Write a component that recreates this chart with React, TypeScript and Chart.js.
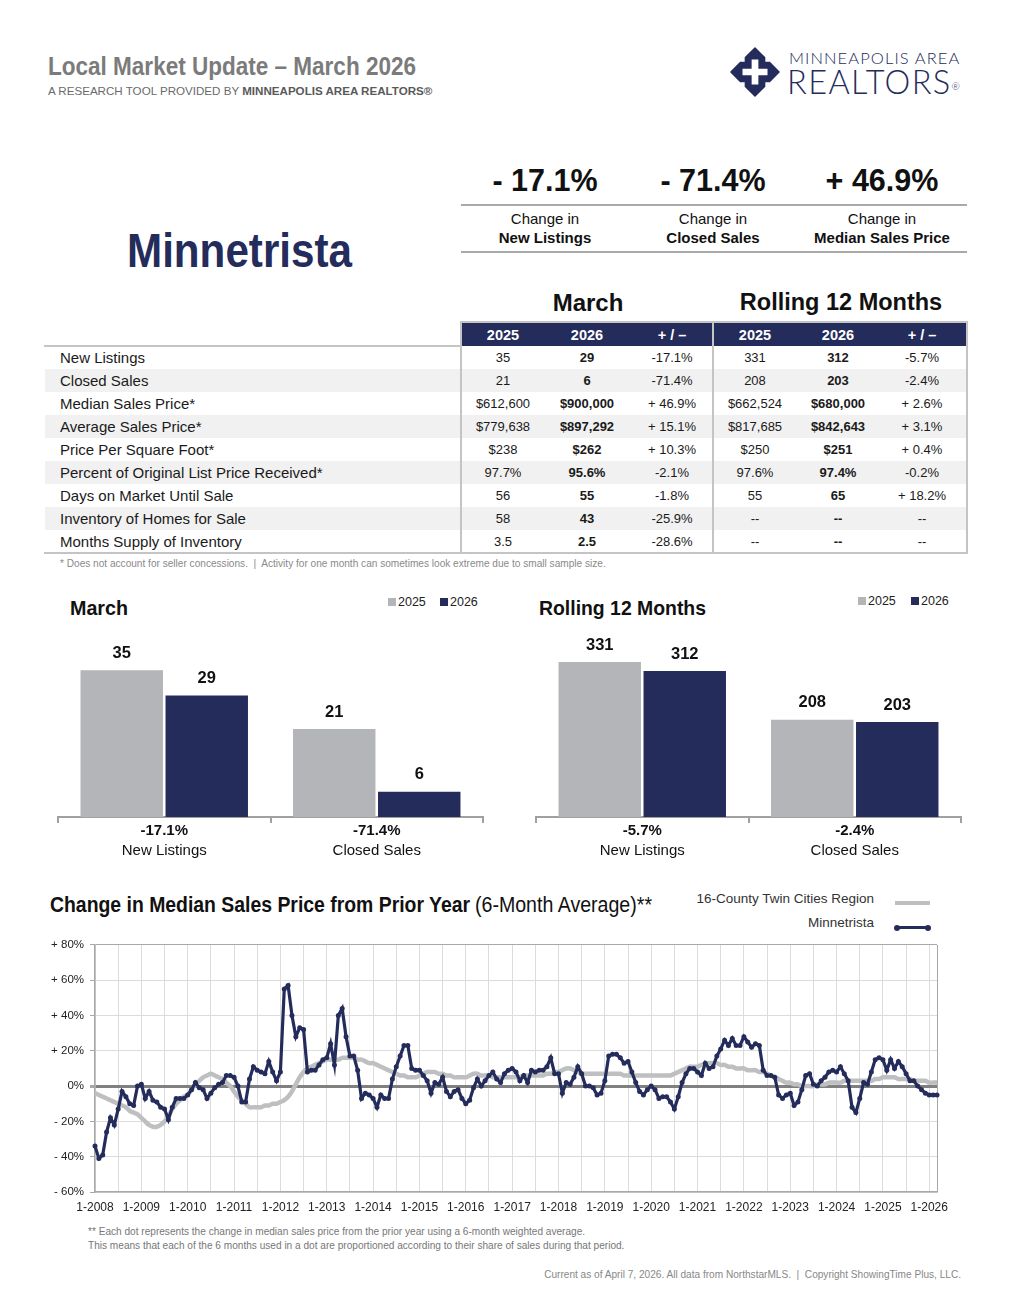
import React, { useEffect, useLayoutEffect, useRef } from "react";
import { Chart, registerables } from "chart.js";
Chart.register(...registerables);

const FONT = "'Liberation Sans', Arial, Helvetica, sans-serif";
const NAVY = "#242c5c";
const BAR_GRAY = "#b3b5b8";
const LINE_GRAY = "#bdbfc1";

// ---- KPI ----
const kpiValues = ["- 17.1%", "- 71.4%", "+ 46.9%"];
const kpiLabels = ["New Listings", "Closed Sales", "Median Sales Price"];

// ---- Table ----
const tableRows = [
  "New Listings",
  "Closed Sales",
  "Median Sales Price*",
  "Average Sales Price*",
  "Price Per Square Foot*",
  "Percent of Original List Price Received*",
  "Days on Market Until Sale",
  "Inventory of Homes for Sale",
  "Months Supply of Inventory",
];
const march2025 = ["35", "21", "$612,600", "$779,638", "$238", "97.7%", "56", "58", "3.5"];
const march2026 = ["29", "6", "$900,000", "$897,292", "$262", "95.6%", "55", "43", "2.5"];
const marchChange = ["-17.1%", "-71.4%", "+ 46.9%", "+ 15.1%", "+ 10.3%", "-2.1%", "-1.8%", "-25.9%", "-28.6%"];
const rolling2025 = ["331", "208", "$662,524", "$817,685", "$250", "97.6%", "55", "--", "--"];
const rolling2026 = ["312", "203", "$680,000", "$842,643", "$251", "97.4%", "65", "--", "--"];
const rollingChange = ["-5.7%", "-2.4%", "+ 2.6%", "+ 3.1%", "+ 0.4%", "-0.2%", "+ 18.2%", "--", "--"];

// ---- Bar charts ----
const barCategories = ["New Listings", "Closed Sales"];
const marchBars2025 = [35, 21];
const marchBars2026 = [29, 6];
const marchBarChanges = ["-17.1%", "-71.4%"];
const rollingBars2025 = [331, 208];
const rollingBars2026 = [312, 203];
const rollingBarChanges = ["-5.7%", "-2.4%"];

// ---- Line chart (Jan 2008 .. Mar 2026, monthly, % change) ----
const startYear = 2008;
const minnetristaValues = [
  -34, -41, -39, -26, -18, -22, -13, -3, -6, -10, -11, 0,
  1, -7, -3, -8, -9, -12, -13, -19, -12, -7, -7, -7,
  -5, -2, 2, -1, -2, -7, -4, -1, 1, 2, 6, 6,
  5, 0, -9, -9, 4, 11, 9, 8, 7, 14, 8, 3,
  8, 55, 57, 40, 28, 33, 32, 8, 9, 9, 12, 15,
  16, 24, 12, 40, 44, 28, 17, 17, 9, -7, -4, -5,
  -7, -12, -5, -7, -7, 4, 11, 17, 23, 23, 10, 9,
  9, 6, 3, -4, 2, 1, 5, -3, -6, -3, -2, -7,
  -10, -8, -1, 4, 0, 3, 6, 8, 4, 2, 7, 9,
  10, 8, 3, 6, 2, 9, 8, 9, 9, 11, 16, 7,
  7, -4, 2, 1, 5, 11, 7, 0, 0, -1, -5, -4,
  3, 17, 18, 18, 16, 13, 14, 8, 2, -3, -5, -2,
  0, -2, -7, -6, -6, -9, -13, -6, 2, 7, 10, 10,
  8, 6, 13, 10, 11, 17, 21, 26, 23, 27, 23, 23,
  28, 25, 22, 24, 23, 9, 6, 6, 5, -5, -7, -5,
  -4, -11, -9, -2, 6, 7, 1, 0, 3, 5, 8, 9,
  8, 11, 7, 3, -12, -15, -7, 2, 1, 8, 15, 16,
  15, 9, 15, 10, 14, 11, 7, 3, 3, 0, -2, -4,
  -5, -5, -5,
];
const regionValues = [
  -4, -5, -6, -7, -8, -9, -10, -11, -12, -14, -15, -16,
  -18, -20, -22, -23, -23, -22, -20, -17, -13, -10, -8, -6,
  -5, -2, 1, 3, 5, 6, 7, 6, 5, 4, 2, 0,
  -3, -6, -8, -10, -12, -12, -12, -12, -11, -11, -10, -10,
  -9, -8, -6, -3, 1, 5, 8, 10, 11, 12, 13, 14,
  15, 15, 15, 15, 16, 16, 16, 16, 15, 15, 14, 13,
  13, 12, 11, 10, 9, 8, 7, 6, 6, 5, 5, 5,
  6, 7, 8, 8, 8, 7, 7, 6, 6, 5, 5, 5,
  5, 6, 7, 7, 6, 6, 6, 5, 5, 5, 5, 5,
  5, 5, 5, 6, 6, 6, 6, 6, 6, 7, 7, 8,
  8, 9, 10, 10, 9, 8, 7, 7, 7, 7, 7, 7,
  7, 7, 7, 7, 7, 6, 6, 6, 6, 6, 6, 6,
  6, 6, 6, 6, 6, 6, 7, 8, 9, 10, 11, 11,
  11, 12, 12, 13, 13, 13, 12, 12, 11, 11, 10, 10,
  10, 9, 9, 9, 8, 8, 7, 6, 5, 4, 3, 2,
  2, 1, 1, 0, 0, 0, 0, 1, 1, 1, 2, 2,
  2, 2, 3, 3, 3, 3, 3, 3, 3, 3, 4, 4,
  5, 5, 5, 5, 4, 4, 4, 4, 3, 3, 3, 3,
  2, 2, 2,
];
const monthLabels = minnetristaValues.map((_, i) => `${(i % 12) + 1}-${startYear + Math.floor(i / 12)}`);
const yTicks = [80, 60, 40, 20, 0, -20, -40, -60];

function Txt(props: any) {
  const { x, y, size, children, weight = 400, color = "#111", family = FONT, align = "left", style = {} } = props;
  const lh = Math.round(size * 1.3);
  const s: any = {
    position: "absolute",
    top: y - lh / 2,
    fontSize: size,
    lineHeight: lh + "px",
    fontWeight: weight,
    color,
    fontFamily: family,
    whiteSpace: "nowrap",
    ...style,
  };
  if (align === "left") s.left = x;
  else if (align === "center") {
    s.left = x - 300;
    s.width = 600;
    s.textAlign = "center";
  } else {
    s.right = 1011 - x;
    s.textAlign = "right";
  }
  return <div style={s}>{children}</div>;
}

// Condensed text: Arial-like bold squeezed horizontally to a target width
function FitTxt(props: any) {
  const { x, y, size, width, children, weight = 700, color = "#111" } = props;
  const ref = useRef<HTMLDivElement>(null);
  useLayoutEffect(() => {
    const el = ref.current;
    if (!el) return;
    el.style.transform = "none";
    const w = el.getBoundingClientRect().width;
    if (w > 0) el.style.transform = `scaleX(${width / w})`;
  });
  const lh = Math.round(size * 1.3);
  return (
    <div
      ref={ref}
      style={{
        position: "absolute",
        left: x,
        top: y - lh / 2,
        fontSize: size,
        lineHeight: lh + "px",
        fontWeight: weight,
        color,
        fontFamily: FONT,
        whiteSpace: "nowrap",
        transformOrigin: "0 50%",
        display: "inline-block",
      }}
    >
      {children}
    </div>
  );
}

function Box(props: any) {
  const { x, y, w, h, bg } = props;
  return <div style={{ position: "absolute", left: x, top: y, width: w, height: h, background: bg }} />;
}

const barLabelPlugin = {
  id: "barLabels",
  afterDatasetsDraw(chart: any, _args: any, opts: any) {
    const ctx = chart.ctx;
    ctx.save();
    ctx.textAlign = "center";
    ctx.textBaseline = "middle";
    ctx.fillStyle = "#111";
    ctx.font = `bold 16.5px ${FONT}`;
    chart.data.datasets.forEach((ds: any, di: number) => {
      const meta = chart.getDatasetMeta(di);
      meta.data.forEach((bar: any, i: number) => {
        ctx.fillText(String(ds.data[i]), bar.x, bar.y - 17);
      });
    });
    const xs = chart.scales.x;
    chart.data.labels.forEach((lab: string, i: number) => {
      const x = xs.getPixelForValue(i);
      ctx.font = `bold 15px ${FONT}`;
      ctx.fillText(opts.changes[i], x, xs.top + 14);
      ctx.font = `15px ${FONT}`;
      ctx.fillText(lab, x, xs.top + 34);
    });
    ctx.restore();
  },
};

function BarChart(props: any) {
  const { left, values2025, values2026, changes, max } = props;
  const ref = useRef<HTMLCanvasElement>(null);
  useEffect(() => {
    const chart = new Chart(ref.current as HTMLCanvasElement, {
      type: "bar",
      data: {
        labels: barCategories,
        datasets: [
          { label: "2025", data: values2025, backgroundColor: BAR_GRAY, categoryPercentage: 0.8, barPercentage: 0.97 },
          { label: "2026", data: values2026, backgroundColor: NAVY, categoryPercentage: 0.8, barPercentage: 0.97 },
        ],
      },
      options: {
        responsive: false,
        animation: false,
        devicePixelRatio: 1,
        layout: { padding: { left: 18, right: 17, top: 0, bottom: 47 } },
        plugins: { legend: { display: false }, tooltip: { enabled: false }, barLabels: { changes } } as any,
        scales: {
          x: {
            grid: { display: true, drawOnChartArea: false, drawTicks: true, tickLength: 6, color: "#a0a0a0", lineWidth: 2, offset: true },
            border: { display: true, color: "#a0a0a0", width: 2 },
            ticks: { display: false },
          },
          y: { display: false, min: 0, max },
        },
      },
      plugins: [barLabelPlugin],
    } as any);
    return () => chart.destroy();
  }, []);
  return <canvas ref={ref} width={460} height={250} style={{ position: "absolute", left, top: 620 }} />;
}

function fmtPct(v: number) {
  if (v > 0) return `+ ${v}%`;
  if (v < 0) return `- ${-v}%`;
  return "0%";
}

function LineChart() {
  const ref = useRef<HTMLCanvasElement>(null);
  useEffect(() => {
    const last = monthLabels.length - 1;
    const chart = new Chart(ref.current as HTMLCanvasElement, {
      type: "line",
      data: {
        labels: monthLabels,
        datasets: [
          {
            label: "Minnetrista",
            data: minnetristaValues,
            borderColor: NAVY,
            backgroundColor: NAVY,
            borderWidth: 3.2,
            pointRadius: 2.5,
            pointBackgroundColor: NAVY,
            pointBorderWidth: 0,
            tension: 0,
            order: 0,
          },
          {
            label: "16-County Twin Cities Region",
            data: regionValues,
            borderColor: LINE_GRAY,
            backgroundColor: LINE_GRAY,
            borderWidth: 4.5,
            pointRadius: 0,
            tension: 0.3,
            order: 1,
          },
        ],
      },
      options: {
        responsive: false,
        animation: false,
        devicePixelRatio: 1,
        layout: { padding: { left: 0, right: 23, top: 12, bottom: 0 } },
        plugins: { legend: { display: false }, tooltip: { enabled: false } },
        scales: {
          x: {
            type: "category",
            offset: false,
            grid: {
              color: (c: any) => (c.index === last ? "#a8a8a8" : c.index % 6 === 0 ? "#dcdcdc" : "rgba(0,0,0,0)"),
              drawTicks: false,
              lineWidth: 1,
            },
            border: { display: true, color: "#a8a8a8", width: 1.5 },
            ticks: {
              autoSkip: false,
              maxRotation: 0,
              minRotation: 0,
              padding: 8,
              color: "#222",
              font: { size: 12, family: FONT },
              callback: (_v: any, i: number) => (i % 12 === 0 ? monthLabels[i] : ""),
            },
            afterFit: (s: any) => {
              s.height = 30;
            },
          },
          y: {
            min: -60,
            max: 80,
            afterBuildTicks: (s: any) => {
              s.ticks = yTicks.map((v) => ({ value: v }));
            },
            ticks: { padding: 6, color: "#222", font: { size: 11.5, family: FONT }, callback: (v: any) => fmtPct(v) },
            grid: {
              color: (c: any) => (c.tick && c.tick.value === 0 ? "#808080" : c.tick && c.tick.value === 80 ? "#a8a8a8" : "#dcdcdc"),
              lineWidth: (c: any) => (c.tick && c.tick.value === 0 ? 3 : 1),
              tickColor: "#a8a8a8",
              tickLength: 5,
              drawTicks: true,
            },
            border: { display: true, color: "#a8a8a8", width: 1.5 },
            afterFit: (s: any) => {
              s.width = 65;
            },
          },
        },
      },
    } as any);
    return () => chart.destroy();
  }, []);
  return <canvas ref={ref} width={930} height={290} style={{ position: "absolute", left: 30, top: 932 }} />;
}

function Logo() {
  return (
    <svg width={50} height={50} viewBox="0 0 52 52" style={{ position: "absolute", left: 730, top: 47 }}>
      <path
        d="M26 1 L36 11 L36 16 L41 16 L51 26 L41 36 L36 36 L36 41 L26 51 L16 41 L16 36 L11 36 L1 26 L11 16 L16 16 L16 11 Z"
        fill={NAVY}
        strokeLinejoin="round"
        stroke={NAVY}
        strokeWidth={1.5}
      />
      <path d="M22.5 13 h7 v9.5 h9.5 v7 h-9.5 v9.5 h-7 v-9.5 h-9.5 v-7 h9.5 z" fill="#fff" />
    </svg>
  );
}

export default function App() {
  const colX = [503, 587, 672, 755, 838, 922];
  const rowTop = 346;
  const rowH = 23;
  return (
    <div style={{ position: "absolute", left: 0, top: 0, width: 1011, height: 1310, background: "#fff", fontFamily: FONT }}>
      {/* Header */}
      <FitTxt x={48} y={66} size={26} width={368} color="#7b7b7b">
        Local Market Update – March 2026
      </FitTxt>
      <Txt x={48} y={90} size={11.6} color="#6a6a6a">
        A RESEARCH TOOL PROVIDED BY <b style={{ color: "#5a5a5a" }}>MINNEAPOLIS AREA REALTORS®</b>
      </Txt>
      <Logo />
      <Txt x={789} y={58} size={16.5} color={NAVY} family="Lato, 'Open Sans', sans-serif" weight={300} style={{ letterSpacing: 1.1 }}>
        MINNEAPOLIS AREA
      </Txt>
      <Txt x={787} y={82} size={32.5} color={NAVY} family="Lato, 'Open Sans', sans-serif" weight={300} style={{ letterSpacing: 1.4 }}>
        REALTORS<span style={{ fontSize: 10, verticalAlign: "top", position: "relative", top: 4, letterSpacing: 0 }}>®</span>
      </Txt>

      {/* KPIs */}
      {kpiValues.map((v, i) => (
        <Txt key={"kv" + i} x={[545, 713, 882][i]} y={180} size={30.5} weight={700} align="center" color="#111">
          {v}
        </Txt>
      ))}
      <Box x={461} y={204} w={506} h={2} bg="#a9a9a9" />
      {kpiLabels.map((l, i) => (
        <React.Fragment key={"kl" + i}>
          <Txt x={[545, 713, 882][i]} y={219} size={15} align="center" color="#111">
            Change in
          </Txt>
          <Txt x={[545, 713, 882][i]} y={238} size={15} weight={700} align="center" color="#111">
            {l}
          </Txt>
        </React.Fragment>
      ))}
      <Box x={461} y={251} w={506} h={2} bg="#a9a9a9" />

      <FitTxt x={127} y={250} size={49} width={225} color={NAVY}>
        Minnetrista
      </FitTxt>

      {/* Table */}
      <Txt x={588} y={302} size={24} weight={700} align="center" color="#111">
        March
      </Txt>
      <Txt x={841} y={302} size={23.5} weight={700} align="center" color="#111">
        Rolling 12 Months
      </Txt>
      {tableRows.map((_, i) =>
        i % 2 === 1 ? <Box key={"st" + i} x={45} y={rowTop + i * rowH} w={921} h={rowH} bg="#f1f1f1" /> : null
      )}
      <Box x={461} y={322} w={506} h={24} bg={NAVY} />
      <Box x={44} y={345} w={418} h={2} bg="#c4c4c4" />
      <Box x={44} y={552} w={924} h={2} bg="#c4c4c4" />
      <Box x={460} y={321} w={508} h={2} bg="#c4c4c4" />
      <Box x={460} y={321} w={2} h={233} bg="#c4c4c4" />
      <Box x={712} y={321} w={2} h={233} bg="#c4c4c4" />
      <Box x={966} y={321} w={2} h={233} bg="#c4c4c4" />
      {["2025", "2026", "+ / –", "2025", "2026", "+ / –"].map((h, i) => (
        <Txt key={"h" + i} x={colX[i]} y={335} size={14.5} weight={700} align="center" color="#fff">
          {h}
        </Txt>
      ))}
      {tableRows.map((r, i) => {
        const cy = rowTop + i * rowH + rowH / 2;
        const vals = [march2025[i], march2026[i], marchChange[i], rolling2025[i], rolling2026[i], rollingChange[i]];
        return (
          <React.Fragment key={"r" + i}>
            <Txt x={60} y={cy} size={15} color="#1a1a1a">
              {r}
            </Txt>
            {vals.map((v, j) => (
              <Txt key={"c" + j} x={colX[j]} y={cy} size={13} weight={j === 1 || j === 4 ? 700 : 400} align="center" color="#1a1a1a">
                {v}
              </Txt>
            ))}
          </React.Fragment>
        );
      })}
      <Txt x={60} y={563} size={10.1} color="#8a8a8a">
        * Does not account for seller concessions. &nbsp;|&nbsp; Activity for one month can sometimes look extreme due to small sample size.
      </Txt>

      {/* Bar charts */}
      <FitTxt x={70} y={607} size={21} width={58} color="#111">
        March
      </FitTxt>
      <Box x={388} y={598} w={8} h={8} bg={BAR_GRAY} />
      <Txt x={398} y={602} size={12.5} color="#222">2025</Txt>
      <Box x={440} y={598} w={8} h={8} bg={NAVY} />
      <Txt x={450} y={602} size={12.5} color="#222">2026</Txt>
      <BarChart left={40} values2025={marchBars2025} values2026={marchBars2026} changes={marchBarChanges} max={47} />

      <FitTxt x={539} y={607} size={21} width={167} color="#111">
        Rolling 12 Months
      </FitTxt>
      <Box x={858} y={597} w={8} h={8} bg={BAR_GRAY} />
      <Txt x={868} y={601} size={12.5} color="#222">2025</Txt>
      <Box x={911} y={597} w={8} h={8} bg={NAVY} />
      <Txt x={921} y={601} size={12.5} color="#222">2026</Txt>
      <BarChart left={518} values2025={rollingBars2025} values2026={rollingBars2026} changes={rollingBarChanges} max={421} />

      {/* Line chart */}
      <FitTxt x={50} y={904} size={22.5} width={420} color="#111">
        Change in Median Sales Price from Prior Year
      </FitTxt>
      <FitTxt x={475} y={904} size={22.5} width={177} weight={400} color="#111">
        (6-Month Average)**
      </FitTxt>
      <Txt x={874} y={899} size={13.5} color="#333" align="right">
        16-County Twin Cities Region
      </Txt>
      <Box x={895} y={901} w={35} h={4} bg={LINE_GRAY} />
      <Txt x={874} y={923} size={13.5} color="#333" align="right">
        Minnetrista
      </Txt>
      <Box x={896} y={926} w={33} h={3} bg={NAVY} />
      <div style={{ position: "absolute", left: 894, top: 924.5, width: 6, height: 6, borderRadius: 3, background: NAVY }} />
      <div style={{ position: "absolute", left: 925, top: 924.5, width: 6, height: 6, borderRadius: 3, background: NAVY }} />
      <LineChart />

      <Txt x={88} y={1231} size={10.1} color="#777">
        ** Each dot represents the change in median sales price from the prior year using a 6-month weighted average.
      </Txt>
      <Txt x={88} y={1245} size={10.1} color="#777">
        This means that each of the 6 months used in a dot are proportioned according to their share of sales during that period.
      </Txt>
      <Txt x={961} y={1274} size={10.1} color="#888" align="right">
        Current as of April 7, 2026. All data from NorthstarMLS. &nbsp;|&nbsp; Copyright ShowingTime Plus, LLC.
      </Txt>
    </div>
  );
}
